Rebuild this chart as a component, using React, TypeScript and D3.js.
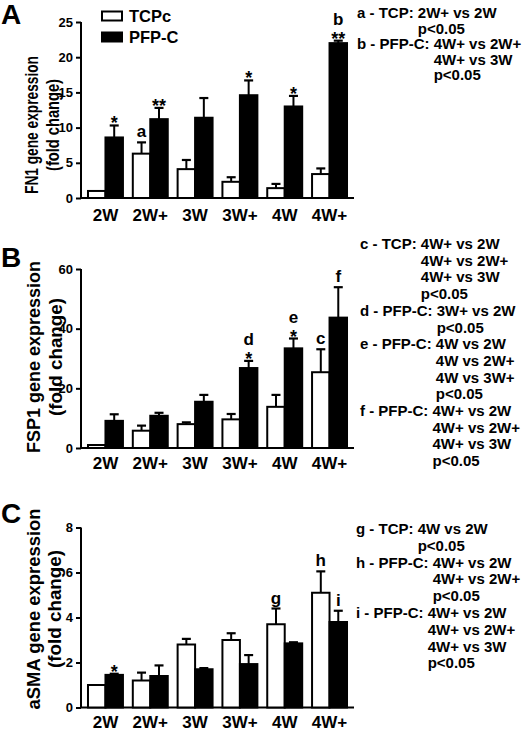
import React, { useEffect, useRef } from "react";
import * as d3 from "d3";

// ---------- data ----------
const categories = ["2W", "2W+", "3W", "3W+", "4W", "4W+"];
const seriesNames = ["TCPc", "PFP-C"];

const fn1Ticks = [0, 5, 10, 15, 20, 25];
const fn1TCPc = [1.0, 6.3, 4.1, 2.3, 1.4, 3.4];
const fn1TCPcErr = [0, 1.6, 1.3, 0.65, 0.6, 0.8];
const fn1PFPC = [8.6, 11.2, 11.4, 14.6, 13.0, 22.0];
const fn1PFPCErr = [1.7, 1.6, 2.8, 2.1, 1.5, 0.35];
const fn1Stars = ["", "", "", "", "", ""];
const fn1PFPCStars = ["*", "**", "", "*", "*", "**"];
const fn1TCPcLetters = ["", "a", "", "", "", ""];
const fn1PFPCLetters = ["", "", "", "", "", "b"];
const fn1Title = ["FN1 gene expression", "(fold change)"];
const fn1Notes = [
  { prefix: "a - TCP:", lines: ["2W+ vs 2W", "p<0.05"] },
  { prefix: "b - PFP-C:", lines: ["4W+ vs 2W+", "4W+ vs 3W", "p<0.05"] },
];

const fsp1Ticks = [0, 20, 40, 60];
const fsp1TCPc = [1.0, 5.8, 8.0, 9.6, 13.8, 25.4];
const fsp1TCPcErr = [0, 1.7, 0.6, 1.8, 4.0, 7.7];
const fsp1PFPC = [9.1, 10.8, 15.5, 26.8, 33.4, 43.7];
const fsp1PFPCErr = [2.2, 1.0, 2.3, 2.4, 3.3, 10.2];
const fsp1Stars = ["", "", "", "", "", ""];
const fsp1PFPCStars = ["", "", "", "*", "*", ""];
const fsp1TCPcLetters = ["", "", "", "", "", "c"];
const fsp1PFPCLetters = ["", "", "", "d", "e", "f"];
const fsp1Title = ["FSP1 gene expression", "(fold change)"];
const fsp1Notes = [
  { prefix: "c - TCP:", lines: ["4W+ vs 2W", "4W+ vs 2W+", "4W+ vs 3W", "p<0.05"] },
  { prefix: "d - PFP-C:", lines: ["3W+ vs 2W", "p<0.05"] },
  { prefix: "e - PFP-C:", lines: ["4W vs 2W", "4W vs 2W+", "4W vs 3W+", "p<0.05"] },
  { prefix: "f - PFP-C:", lines: ["4W+ vs 2W", "4W+ vs 2W+", "4W+ vs 3W", "p<0.05"] },
];

const asmaTicks = [0, 2, 4, 6, 8];
const asmaTCPc = [1.0, 1.2, 2.8, 3.0, 3.7, 5.1];
const asmaTCPcErr = [0, 0.35, 0.25, 0.3, 0.7, 0.95];
const asmaPFPC = [1.45, 1.4, 1.7, 1.93, 2.85, 3.8];
const asmaPFPCErr = [0.05, 0.47, 0.05, 0.4, 0.05, 0.5];
const asmaStars = ["", "", "", "", "", ""];
const asmaPFPCStars = ["*", "", "", "", "", ""];
const asmaTCPcLetters = ["", "", "", "", "g", "h"];
const asmaPFPCLetters = ["", "", "", "", "", "i"];
const asmaTitle = ["aSMA gene expression", "(fold change)"];
const asmaNotes = [
  { prefix: "g - TCP:", lines: ["4W vs 2W", "p<0.05"] },
  { prefix: "h - PFP-C:", lines: ["4W+ vs 2W", "4W+ vs 2W+", "p<0.05"] },
  { prefix: "i - PFP-C:", lines: ["4W+ vs 2W", "4W+ vs 2W+", "4W+ vs 3W", "p<0.05"] },
];

const panelLetters = ["A", "B", "C"];

// ---------- layout ----------
const FONT = "'Liberation Sans', Arial, Helvetica, sans-serif";
const NOTE_FS = 15;
const layouts = [
  { yZero: 198, yTop: 22, letterY: 24, titleCY: 125, titleX: [38, 59], titleLen: [138, 92], tickY: 221, notesX: 357, notesY: 18, notesDy: 15.5 },
  { yZero: 448, yTop: 269, letterY: 267, titleCY: 357, titleX: [40, 62], titleLen: [192, 118], tickY: 469, notesX: 360, notesY: 249, notesDy: 16.7 },
  { yZero: 707.5, yTop: 527.5, letterY: 523, titleCY: 609, titleX: [40, 61], titleLen: [201, 118], tickY: 727.5, notesX: 356, notesY: 534, notesDy: 16.8 },
];
const AXIS_X = 81;
const AXIS_END = 354;

const panels = [
  { ticks: fn1Ticks, values: [fn1TCPc, fn1PFPC], errs: [fn1TCPcErr, fn1PFPCErr], stars: [fn1Stars, fn1PFPCStars], letters: [fn1TCPcLetters, fn1PFPCLetters], title: fn1Title, notes: fn1Notes },
  { ticks: fsp1Ticks, values: [fsp1TCPc, fsp1PFPC], errs: [fsp1TCPcErr, fsp1PFPCErr], stars: [fsp1Stars, fsp1PFPCStars], letters: [fsp1TCPcLetters, fsp1PFPCLetters], title: fsp1Title, notes: fsp1Notes },
  { ticks: asmaTicks, values: [asmaTCPc, asmaPFPC], errs: [asmaTCPcErr, asmaPFPCErr], stars: [asmaStars, asmaPFPCStars], letters: [asmaTCPcLetters, asmaPFPCLetters], title: asmaTitle, notes: asmaNotes },
];

export default function App() {
  const ref = useRef<SVGSVGElement>(null);

  useEffect(() => {
    const svg = d3.select(ref.current);
    svg.selectAll("*").remove();
    svg.append("rect").attr("width", 524).attr("height", 732).attr("fill", "#fff");

    const x0 = d3.scaleBand<string>().domain(categories).range([AXIS_X, AXIS_END]).paddingInner(0.22).paddingOuter(0.156);
    const x1 = d3.scaleBand<string>().domain(seriesNames).range([0, x0.bandwidth()]).padding(0);

    panels.forEach((p, pi) => {
      const L = layouts[pi];
      const tickMax = p.ticks[p.ticks.length - 1];
      const y = d3.scaleLinear().domain([0, tickMax]).range([L.yZero, L.yTop]);
      const g = svg.append("g").attr("font-family", FONT).attr("font-weight", "bold").attr("fill", "#000");

      // panel letter
      g.append("text").attr("x", 1).attr("y", L.letterY).attr("font-size", 28).text(panelLetters[pi]);

      // y axis
      const yAxis = d3.axisLeft(y).tickValues(p.ticks).tickSize(5).tickPadding(3).tickFormat(d3.format("d") as any);
      const ya = g.append("g").attr("transform", `translate(${AXIS_X},0)`).call(yAxis);
      ya.select(".domain").attr("stroke", "#000").attr("stroke-width", 2).attr("d", `M0,${L.yZero}V${L.yTop}`);
      ya.selectAll(".tick line").attr("stroke", "#000").attr("stroke-width", 2);
      ya.selectAll(".tick text").attr("font-size", 13).attr("font-family", FONT).attr("font-weight", "bold").attr("fill", "#000");

      // x axis baseline
      g.append("line").attr("x1", AXIS_X - 1).attr("x2", AXIS_END).attr("y1", L.yZero).attr("y2", L.yZero).attr("stroke", "#000").attr("stroke-width", 2);

      // x labels
      categories.forEach((c) => {
        g.append("text").attr("x", (x0(c) as number) + x0.bandwidth() / 2).attr("y", L.tickY)
          .attr("text-anchor", "middle").attr("font-size", 17).text(c);
      });

      // y title
      p.title.forEach((t, ti) => {
        g.append("text")
          .attr("transform", `translate(${L.titleX[ti]},${L.titleCY}) rotate(-90)`)
          .attr("text-anchor", "middle").attr("font-size", 18)
          .attr("textLength", L.titleLen[ti]).attr("lengthAdjust", "spacingAndGlyphs")
          .text(t);
      });

      // bars
      seriesNames.forEach((s, si) => {
        categories.forEach((c, ci) => {
          const v = p.values[si][ci];
          const e = p.errs[si][ci];
          const bx = (x0(c) as number) + (x1(s) as number);
          const bw = x1.bandwidth();
          const cx = bx + bw / 2;
          if (e > 0) {
            g.append("line").attr("x1", cx).attr("x2", cx).attr("y1", y(v)).attr("y2", y(v + e)).attr("stroke", "#000").attr("stroke-width", 2);
            g.append("line").attr("x1", cx - 4.5).attr("x2", cx + 4.5).attr("y1", y(v + e)).attr("y2", y(v + e)).attr("stroke", "#000").attr("stroke-width", 2.2);
          }
          g.append("rect").attr("x", bx).attr("y", y(v)).attr("width", bw).attr("height", L.yZero - y(v))
            .attr("fill", si === 0 ? "#fff" : "#000").attr("stroke", "#000").attr("stroke-width", 2);

          const capY = y(v + e);
          const star = p.stars[si][ci];
          const letter = p.letters[si][ci];
          if (star) {
            g.append("text").attr("x", cx).attr("y", capY + 4).attr("text-anchor", "middle").attr("font-size", 18).text(star);
          }
          if (letter) {
            g.append("text").attr("x", cx).attr("y", star ? capY - 16 : capY - 5).attr("text-anchor", "middle").attr("font-size", 17).text(letter);
          }
        });
      });

      // legend (panel A only)
      if (pi === 0) {
        seriesNames.forEach((s, si) => {
          const cy = 16 + si * 21;
          g.append("rect").attr("x", 102).attr("y", cy - 4.5).attr("width", 20).attr("height", 9)
            .attr("fill", si === 0 ? "#fff" : "#000").attr("stroke", "#000").attr("stroke-width", 2);
          g.append("text").attr("x", 129).attr("y", cy + 6).attr("font-size", 16.5).text(s);
        });
      }

      // notes
      let line = 0;
      p.notes.forEach((n) => {
        const first = g.append("text").attr("x", L.notesX).attr("y", L.notesY + line * L.notesDy).attr("font-size", NOTE_FS)
          .text(`${n.prefix} ${n.lines[0]}`);
        const full = (first.node() as SVGTextElement).getComputedTextLength();
        const tmp = g.append("text").attr("font-size", NOTE_FS).attr("x", -999).attr("y", -999).text(n.lines[0]);
        const rest = (tmp.node() as SVGTextElement).getComputedTextLength();
        tmp.remove();
        const indent = full - rest;
        line++;
        n.lines.slice(1).forEach((t) => {
          g.append("text").attr("x", L.notesX + indent).attr("y", L.notesY + line * L.notesDy).attr("font-size", NOTE_FS).text(t);
          line++;
        });
      });
    });
  }, []);

  return (
    <svg ref={ref} width={524} height={732} style={{ position: "absolute", left: 0, top: 0, display: "block" }} />
  );
}
